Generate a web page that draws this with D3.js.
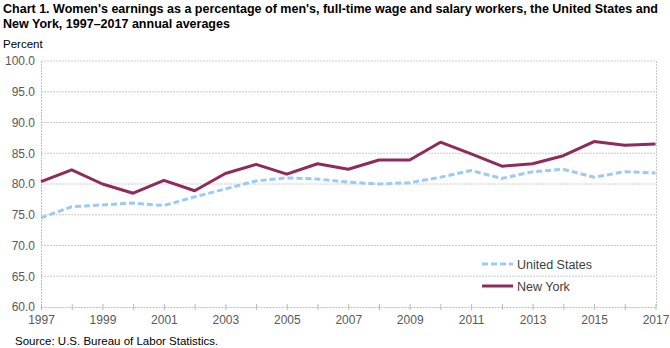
<!DOCTYPE html>
<html><head><meta charset="utf-8">
<script src="https://cdn.jsdelivr.net/npm/d3@7"></script>
<style>body{margin:0;background:#fff}svg{display:block}</style>
</head><body>
<svg id="c" width="670" height="348"></svg>
<script>
const years = d3.range(1997, 2018);
const unitedStates = [74.5,76.3,76.6,76.9,76.5,77.9,79.2,80.5,81.0,80.8,80.3,80.0,80.2,81.1,82.2,80.9,82.0,82.4,81.1,82.0,81.8];
const newYork = [80.4,82.3,80.0,78.5,80.6,78.9,81.7,83.2,81.6,83.3,82.4,83.9,83.9,86.8,84.9,82.9,83.3,84.6,86.9,86.3,86.5];
const yTicks = [60,65,70,75,80,85,90,95,100];
const xLabels = [1997,1999,2001,2003,2005,2007,2009,2011,2013,2015,2017];
const seriesNames = ["United States","New York"];
const titleLines = ["Chart 1. Women's earnings as a percentage of men's, full-time wage and salary workers, the United States and",
  "New York, 1997–2017 annual averages"];

const svg = d3.select("#c");
const font = "'Liberation Sans', Arial, sans-serif";
const x = d3.scaleLinear().domain([1997,2017]).range([41,655.5]);
const y = d3.scaleLinear().domain([60,100]).range([307,61]);

const tt = svg.selectAll("text.title").data(titleLines).join("text").attr("class","title")
  .attr("x",3).attr("y",(d,i)=>13+i*15).attr("font-family",font).attr("font-weight","bold")
  .attr("font-size",12.5).attr("fill","#000").text(d=>d);
const w0 = tt.nodes()[0].getComputedTextLength();
const ratio = Math.min(1.03, 655/w0);
tt.each(function(){ const w=this.getComputedTextLength(); d3.select(this).attr("textLength",w*ratio).attr("lengthAdjust","spacingAndGlyphs"); });

svg.append("text").attr("x",3).attr("y",48).attr("font-family",font).attr("font-size",11.5).attr("fill","#000").text("Percent");

// gridlines
svg.append("g").selectAll("line").data(yTicks.filter(d=>d>60)).join("line")
  .attr("x1",41).attr("x2",656).attr("y1",d=>y(d)).attr("y2",d=>y(d))
  .attr("stroke","#cccccc").attr("stroke-width",1).attr("stroke-dasharray","2,1");
// left and right borders
svg.append("line").attr("x1",41.5).attr("x2",41.5).attr("y1",61).attr("y2",307).attr("stroke","#c0c0c0").attr("stroke-dasharray","2,1");
svg.append("line").attr("x1",656.5).attr("x2",656.5).attr("y1",61).attr("y2",307).attr("stroke","#c8c8c8").attr("stroke-dasharray","2,1");

// y axis labels
const yAxis = d3.axisLeft(y).tickValues(yTicks).tickFormat(d3.format(".1f")).tickSize(0).tickPadding(6);
const gy = svg.append("g").attr("transform","translate(41,0)").call(yAxis);
gy.select(".domain").remove();
gy.selectAll("text").attr("font-family",font).attr("font-size",12).attr("fill","#595959");

// x axis
const xAxis = d3.axisBottom(x).tickValues(years).tickSizeInner(0).tickSizeOuter(0).tickFormat(d=> xLabels.includes(d)? String(d):"").tickPadding(8);
const gx = svg.append("g").attr("transform","translate(0,307)").call(xAxis);
gx.select(".domain").attr("stroke","#c0c0c0").attr("stroke-dasharray","2,1");
gx.selectAll("text").attr("font-family",font).attr("font-size",12).attr("fill","#595959");
gx.selectAll(".tick").append("line").attr("y1",-3).attr("y2",3).attr("stroke","#b8b8b8");

const line = d3.line().x((d,i)=>x(years[i])).y(d=>y(d));
svg.append("path").datum(unitedStates).attr("d",line).attr("fill","none")
  .attr("stroke","#9dcaf5").attr("stroke-width",3).attr("stroke-dasharray","6,3");
svg.append("path").datum(newYork).attr("d",line).attr("fill","none")
  .attr("stroke","#8e2a5c").attr("stroke-width",3).attr("stroke-linejoin","round");

// legend
const lg = svg.append("g");
lg.append("line").attr("x1",482).attr("x2",513).attr("y1",264).attr("y2",264).attr("stroke","#9dcaf5").attr("stroke-width",3).attr("stroke-dasharray","6,3");
lg.append("line").attr("x1",482).attr("x2",513).attr("y1",286).attr("y2",286).attr("stroke","#8e2a5c").attr("stroke-width",3);
lg.selectAll("text.leg").data(seriesNames).join("text").attr("class","leg").attr("x",517).attr("y",(d,i)=>268.5+i*22)
  .attr("font-family",font).attr("font-size",12.5).attr("fill","#404040").text(d=>d);

svg.append("text").attr("x",15).attr("y",345).attr("font-family",font).attr("font-size",11.5).attr("fill","#000")
  .text("Source:  U.S. Bureau of Labor Statistics.");
</script>
</body></html>
